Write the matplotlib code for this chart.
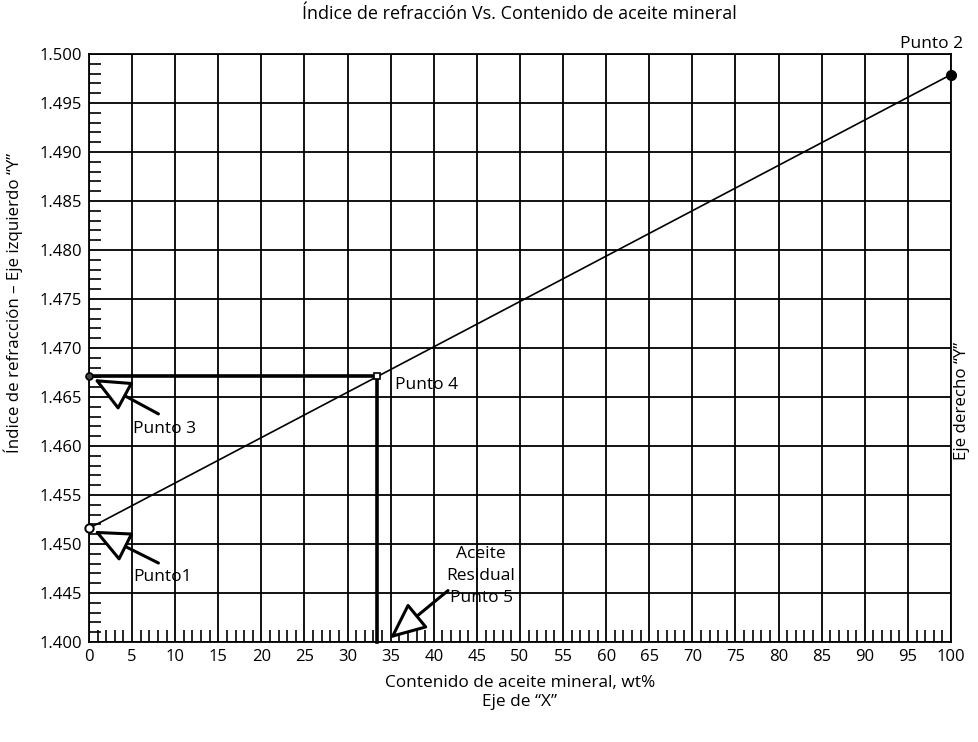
import numpy as np
from matplotlib import pyplot as plt
from matplotlib.ticker import FixedLocator, NullFormatter

# calibration line between the two reference oils (wt% mineral oil, refractive index)
conc_line = [0, 100]
ri_line = [1.4516, 1.4979]

# measured sample: refractive index read on the left axis and the resulting oil content
sample_ri = 1.4671
residual_conc = 33.4

x_ticks = list(range(0, 101, 5))
y_ticks = [1.400, 1.445, 1.450, 1.455, 1.460, 1.465, 1.470,
           1.475, 1.480, 1.485, 1.490, 1.495, 1.500]

plt.rcParams['font.family'] = ['Open Sans', 'DejaVu Sans']
plt.rcParams['font.size'] = 12.5


# the y axis is broken: 1.400 sits one grid step below 1.445
def fwd(v):
    v = np.asarray(v, dtype=float)
    return np.where(v >= 1.445, (v - 1.440) / 0.005, (v - 1.400) / 0.045)


def inv(p):
    p = np.asarray(p, dtype=float)
    return np.where(p >= 1, 1.440 + p * 0.005, 1.400 + p * 0.045)


fig = plt.figure(figsize=(9.79, 7.42), dpi=100)
ax = fig.add_axes([0.0909, 0.1348, 0.8805, 0.7924])
ax.set_yscale('function', functions=(fwd, inv))
ax.set_xlim(0, 100)
ax.set_ylim(1.400, 1.500)

ax.set_xticks(x_ticks)
ax.set_xticklabels([str(t) for t in x_ticks])
ax.set_yticks(y_ticks)
ax.set_yticklabels(['%.3f' % t for t in y_ticks])

x_minor = [v for v in range(0, 101) if v % 5 != 0]
y_minor = [float(inv(p + k / 5)) for p in range(12) for k in range(1, 5)]
ax.xaxis.set_minor_locator(FixedLocator(x_minor))
ax.yaxis.set_minor_locator(FixedLocator(y_minor))
ax.xaxis.set_minor_formatter(NullFormatter())
ax.yaxis.set_minor_formatter(NullFormatter())

ax.tick_params(which='major', length=0, pad=5, labelsize=12)
ax.tick_params(which='minor', direction='in', length=8.5, width=1.2,
               top=False, right=False)
ax.grid(True, which='major', color='black', linewidth=1.3)
for s in ax.spines.values():
    s.set_linewidth(1.3)

# calibration line and the sample read-out lines
ax.plot(conc_line, ri_line, color='black', linewidth=1.2, zorder=3)
ax.plot([0, residual_conc, residual_conc], [sample_ri, sample_ri, 1.400],
        color='black', linewidth=2.6, zorder=3, clip_on=False)

ax.plot(conc_line[0], ri_line[0], 'o', ms=6, mfc='white', mec='black', mew=1.4,
        zorder=5, clip_on=False)
ax.plot(conc_line[1], ri_line[1], 'o', ms=7, color='black', zorder=5, clip_on=False)
ax.plot(0, sample_ri, 'o', ms=5, mfc='#444444', mec='black', mew=1.2,
        zorder=5, clip_on=False)
ax.plot(residual_conc, sample_ri, 's', ms=4, mfc='white', mec='black', mew=1.2,
        zorder=5, clip_on=False)

arrow = dict(arrowstyle='-|>,head_length=1.8,head_width=0.8', fc='white',
             ec='black', lw=2.2, shrinkA=0, shrinkB=4)

ax.annotate('', xy=(0, sample_ri), xytext=(50, -27), textcoords='offset points',
            arrowprops=arrow, annotation_clip=False)
ax.annotate('Punto 3', xy=(0, sample_ri), xytext=(32, -38), textcoords='offset points',
            ha='left', va='center', annotation_clip=False)

ax.annotate('', xy=(conc_line[0], ri_line[0]), xytext=(50, -25),
            textcoords='offset points', arrowprops=arrow, annotation_clip=False)
ax.annotate('Punto1', xy=(conc_line[0], ri_line[0]), xytext=(32, -35),
            textcoords='offset points', ha='left', va='center', annotation_clip=False)

ax.annotate('', xy=(residual_conc + 1, 1.400), xytext=(45, 37),
            textcoords='offset points', arrowprops=arrow, annotation_clip=False)
ax.annotate('Aceite\nResidual\nPunto 5', xy=(residual_conc, 1.400), xytext=(75, 47.5),
            textcoords='offset points', ha='center', va='center', linespacing=1.5,
            annotation_clip=False)

ax.annotate('Punto 4', xy=(residual_conc, sample_ri), xytext=(13, -6),
            textcoords='offset points', ha='left', va='center')
ax.annotate('Punto 2', xy=(conc_line[1], ri_line[1]), xytext=(-14, 22),
            textcoords='offset points', ha='center', va='center', annotation_clip=False)

fig.text(0.531, 0.981, 'Índice de refracción Vs. Contenido de aceite mineral',
         ha='center', va='center', fontsize=13)
fig.text(0.014, 0.592, 'Índice de refracción – Eje izquierdo “Y”',
         rotation=90, ha='center', va='center', fontsize=12.2)
fig.text(0.983, 0.459, 'Eje derecho “Y”', rotation=90, ha='center', va='center',
         fontsize=12.2)
fig.text(0.531, 0.067, 'Contenido de aceite mineral, wt%\nEje de “X”',
         ha='center', va='center', fontsize=12.4, linespacing=1.22)

plt.savefig('out.png', dpi=100)
